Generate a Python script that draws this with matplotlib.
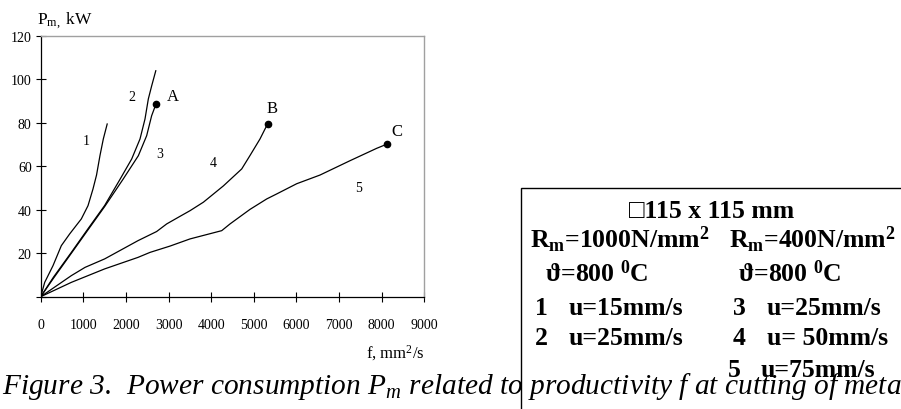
import matplotlib
matplotlib.use("Agg")
import matplotlib.pyplot as plt
from matplotlib.patches import Rectangle

plt.rcParams["font.family"] = ["Liberation Serif", "DejaVu Serif"]
plt.rcParams["mathtext.fontset"] = "custom"
plt.rcParams["mathtext.rm"] = "Liberation Serif"
plt.rcParams["mathtext.it"] = "Liberation Serif:italic"
plt.rcParams["mathtext.bf"] = "Liberation Serif:bold"
plt.rcParams["mathtext.default"] = "regular"
plt.rcParams["mathtext.fallback"] = "stix"

# curves: f (mm2/s), Pm (kW)
f1 = [0, 94, 289, 484, 680, 953, 1110, 1227, 1310, 1391, 1469, 1560]
p1 = [0, 6.6, 14.3, 23.5, 28.9, 35.8, 41.9, 49.6, 56, 65, 72.6, 79.5]
f2 = [0, 300, 719, 1100, 1501, 1860, 2135, 2330, 2447, 2525, 2603, 2700]
p2 = [0, 9, 20.4, 31, 42, 54, 63.4, 72.6, 81.8, 91, 97, 104]
f3 = [0, 300, 719, 1100, 1501, 1930, 2291, 2486, 2603, 2705]
p3 = [0, 8.5, 20, 30.5, 41.5, 54, 64.9, 74.1, 83.3, 88.7]
f4 = [0, 719, 1040, 1501, 2283, 2720, 2956, 3269, 3504, 3817, 4286, 4716, 4911, 5145, 5263, 5326]
p4 = [0, 9.7, 13.5, 17.4, 25.8, 30, 33.5, 37, 39.6, 43.5, 51, 58.8, 65, 72.6, 77.2, 79.5]
f5 = [0, 719, 1501, 2283, 2565, 3034, 3504, 4247, 4442, 4911, 5303, 5537, 6006, 6553, 7257, 7883, 8133]
p5 = [0, 6.6, 12.8, 18.1, 20.4, 23.3, 26.6, 30.4, 33.5, 40.2, 45, 47.3, 52, 56, 62.6, 68.3, 70.3]

curve_names = ["1", "2", "3", "4", "5"]
curve_label_pos = [(1079, 71.8), (2150, 92.2), (2799, 65.7), (4050, 61.9), (7453, 50.4)]
end_names = ["A", "B", "C"]
end_label_pos = [(3089, 92.5), (5420, 86.7), (8367, 76.1)]

xticks = list(range(0, 9001, 1000))
yticks = list(range(0, 121, 20))
ytick_labels = [""] + [str(v) for v in yticks[1:]]

W, H = 901, 410
fig = plt.figure(figsize=(W / 100, H / 100), dpi=100)
ax = fig.add_axes([40.7 / W, 1 - 297.7 / H, 383.6 / W, 260.7 / H])

for f, p in [(f1, p1), (f2, p2), (f3, p3), (f4, p4), (f5, p5)]:
    ax.plot(f, p, color="black", lw=0.9)
for f, p in [(f3, p3), (f4, p4), (f5, p5)]:
    ax.plot(f[-1], p[-1], "o", color="black", ms=4.5)

for name, (x, y) in zip(curve_names, curve_label_pos):
    ax.text(x, y, name, fontsize=10, ha="center", va="center")
for name, (x, y) in zip(end_names, end_label_pos):
    ax.text(x, y, name, fontsize=12, ha="center", va="center")

ax.set_xlim(0, 9000)
ax.set_ylim(0, 120)
ax.set_xticks(xticks)
ax.set_yticks(yticks)
ax.set_yticklabels(ytick_labels)
ax.tick_params(direction="inout", length=7, width=0.8, labelsize=10)
ax.tick_params(axis="x", pad=12)
ax.tick_params(axis="y", pad=3)
for s in ["left", "bottom"]:
    ax.spines[s].set_color("black")
    ax.spines[s].set_linewidth(0.9)
for s in ["top", "right"]:
    ax.spines[s].set_color("#a0a0a0")
    ax.spines[s].set_linewidth(1.0)

fig.text(37.3 / W, 1 - 24 / H, "P$_{m,}$ kW", fontsize=12.5, ha="left", va="baseline")
fig.text(425 / W, 1 - 358 / H, "f, mm$^2$/s", fontsize=12, ha="right", va="baseline")

# info box, running past the right and bottom edges
fig.patches.append(Rectangle((520.7 / W, -0.1), 0.5, 1 - 189 / H + 0.1, transform=fig.transFigure,
                             facecolor="white", edgecolor="black", lw=1.0, zorder=1))

bold = dict(fontsize=18.5, fontweight="bold", va="baseline", zorder=3)
fig.text(711.7 / W, 1 - 218 / H, "□115 x 115 mm", ha="center", **bold)
fig.text(530 / W, 1 - 248 / H, "R$_m$=1000N/mm$^2$", ha="left", **bold)
fig.text(729.3 / W, 1 - 248 / H, "R$_m$=400N/mm$^2$", ha="left", **bold)
fig.text(545 / W, 1 - 282 / H, "ϑ=800 $^0$C", ha="left", **bold)
fig.text(737.7 / W, 1 - 282 / H, "ϑ=800 $^0$C", ha="left", **bold)

speed_rows = [
    ("1", "u=15mm/s", 535, 568.3, 315),
    ("2", "u=25mm/s", 535, 568.3, 345),
    ("3", "u=25mm/s", 732.7, 766.7, 315),
    ("4", "u= 50mm/s", 732.7, 766.7, 345),
    ("5", "u=75mm/s", 727.7, 761, 377),
]
for num, speed, xn, xs, yb in speed_rows:
    fig.text(xn / W, 1 - yb / H, num, ha="left", **bold)
    fig.text(xs / W, 1 - yb / H, speed, ha="left", **bold)

fig.text(2 / W, 1 - 394 / H,
         "Figure 3.  Power consumption $P_m$ related to productivity f at cutting of meta",
         fontsize=21.2, fontstyle="italic", ha="left", va="baseline", zorder=4)

fig.savefig("out.png", dpi=100)
